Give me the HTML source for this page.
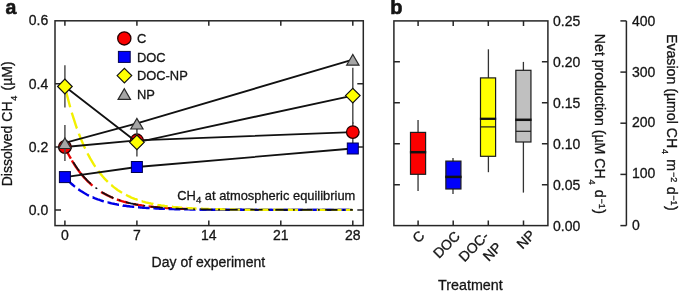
<!DOCTYPE html>
<html><head><meta charset="utf-8"><title>Figure</title>
<style>html,body{margin:0;padding:0;background:#fff}svg{display:block}</style></head>
<body>
<svg width="685" height="293" viewBox="0 0 685 293" font-family="Liberation Sans, sans-serif" font-size="14" fill="#151515" style="will-change:transform">
<rect width="685" height="293" fill="#fff"/>
<style>text{stroke:#151515;stroke-width:0.3px}</style>
<rect x="55.0" y="20.8" width="308.3" height="204.79999999999998" fill="none" stroke="#262626" stroke-width="1.5"/>
<path d="M64.9 225.6 v-5 M64.9 20.8 v5" stroke="#262626" stroke-width="1.5"/>
<text x="64.9" y="240.3" text-anchor="middle">0</text>
<path d="M136.9 225.6 v-5 M136.9 20.8 v5" stroke="#262626" stroke-width="1.5"/>
<text x="136.9" y="240.3" text-anchor="middle">7</text>
<path d="M208.8 225.6 v-5 M208.8 20.8 v5" stroke="#262626" stroke-width="1.5"/>
<text x="208.8" y="240.3" text-anchor="middle">14</text>
<path d="M280.8 225.6 v-5 M280.8 20.8 v5" stroke="#262626" stroke-width="1.5"/>
<text x="280.8" y="240.3" text-anchor="middle">21</text>
<path d="M352.8 225.6 v-5 M352.8 20.8 v5" stroke="#262626" stroke-width="1.5"/>
<text x="352.8" y="240.3" text-anchor="middle">28</text>
<path d="M55.0 209.9 h6 M363.3 209.9 h-6" stroke="#262626" stroke-width="1.5"/>
<text x="48.3" y="215.0" text-anchor="end">0.0</text>
<path d="M55.0 146.9 h6 M363.3 146.9 h-6" stroke="#262626" stroke-width="1.5"/>
<text x="48.3" y="152.0" text-anchor="end">0.2</text>
<path d="M55.0 83.8 h6 M363.3 83.8 h-6" stroke="#262626" stroke-width="1.5"/>
<text x="48.3" y="88.9" text-anchor="end">0.4</text>
<text x="48.3" y="25.1" text-anchor="end">0.6</text>
<text x="208.4" y="267.1" text-anchor="middle">Day of experiment</text>
<text transform="translate(11.9,123.8) rotate(-90)" text-anchor="middle">Dissolved CH<tspan font-size="9" dy="5.4" dx="0.8">4</tspan><tspan dy="-5.4" dx="1.4"> (µM)</tspan></text>
<text x="5.5" y="13.8" font-weight="bold" font-size="19.5" style="stroke-width:0.6px">a</text>
<text x="390.2" y="13.9" font-weight="bold" font-size="20" style="stroke-width:0.6px">b</text>
<clipPath id="c146"><rect x="146" y="0" width="40" height="293"/></clipPath>
<path d="M65.1 147.4 L65.9 149.2 L66.8 150.9 L67.6 152.5 L68.4 154.2 L69.2 155.7 L70.0 157.2 L70.9 158.7 M71.9 160.5 L72.7 161.9 L73.5 163.2 L74.4 164.5 L75.2 165.8 L76.0 167.0 L76.8 168.2 L77.6 169.4 L78.5 170.5 L79.3 171.6 L80.1 172.7 L80.9 173.7 L81.8 174.8 L82.6 175.7 L83.4 176.7 L84.2 177.6 L85.1 178.5 L85.9 179.4 L86.7 180.3 L87.5 181.1 L88.3 181.9 L89.2 182.7 L90.0 183.4 L90.8 184.2 L91.6 184.9 L92.5 185.6 M101.1 191.9 L101.9 192.4 L102.7 192.9 L103.6 193.3 L104.4 193.8 L105.2 194.3 L106.0 194.7 L106.9 195.1 L107.7 195.5 L108.5 195.9 L109.3 196.3 L110.1 196.7 L111.0 197.1 L111.8 197.4 L112.6 197.8 L113.4 198.1 M116.9 199.5 L117.8 199.8 L118.6 200.0 L119.4 200.3 L120.2 200.6 L121.0 200.8 L121.9 201.1 L122.7 201.3 L123.5 201.6 L124.3 201.8 L125.2 202.0 L126.0 202.3 L126.8 202.5 L127.6 202.7 L128.4 202.9 L129.3 203.1 M133.4 204.0 L134.2 204.2 L135.0 204.3 L135.8 204.5 L136.7 204.6 L137.5 204.8 L138.3 204.9 L139.1 205.1 L140.0 205.2 L140.8 205.3 L141.6 205.4 L142.4 205.6 L143.2 205.7 L144.1 205.8" fill="none" stroke="#e60000" stroke-width="2.4"/>
<path d="M67.1 151.5 L67.2 151.7 L68.4 154.2 L69.6 156.5 L70.9 158.7 L72.1 160.8 L73.3 162.9 L74.4 164.5 M77.1 168.6 L77.2 168.8 L78.5 170.5 L79.7 172.2 L80.9 173.7 L82.2 175.3 L83.4 176.7 L84.6 178.1 L85.9 179.4 L85.9 179.5 M89.1 182.7 L89.2 182.7 L90.4 183.8 L91.6 184.9 L92.9 186.0 L94.1 186.9 L95.3 187.9 L96.6 188.8 L97.8 189.7 L99.0 190.5 L99.4 190.8 M102.9 193.0 L102.9 193.0 L104.2 193.7 L105.4 194.4 L106.6 195.0 L107.9 195.6 L109.1 196.2 L110.3 196.8 L111.6 197.3 L112.8 197.9 L114.0 198.4 M117.8 199.8 L118.0 199.8 L119.2 200.2 L120.4 200.7 L121.7 201.0 L122.9 201.4 L124.1 201.8 L125.4 202.1 L126.6 202.4 L127.8 202.7 L129.1 203.0 L129.2 203.1 M133.1 203.9 L133.2 203.9 L134.4 204.2 L135.6 204.4 L136.9 204.7 L138.1 204.9 L139.3 205.1 L140.6 205.3 L141.8 205.5 L143.0 205.7 L144.3 205.8 L144.7 205.9 M148.6 206.4 L148.8 206.4 L150.0 206.6 L151.3 206.7 L152.5 206.8 L153.7 207.0 L155.0 207.1 L156.2 207.2 L157.4 207.3 L158.7 207.4 L159.9 207.5 L160.3 207.6 M164.2 207.9 L164.2 207.9 L165.5 207.9 L166.7 208.0 L167.9 208.1 L169.2 208.2 L170.4 208.3 L171.6 208.3 L172.9 208.4 L174.1 208.5 L175.3 208.5 L175.9 208.5 M179.8 208.7 L179.9 208.7 L181.1 208.8 L182.3 208.8 L183.6 208.9 L184.8 208.9 L186.0 208.9 L187.3 209.0 L188.5 209.0 L189.7 209.1 L191.0 209.1 L191.4 209.1 M195.3 209.2 L195.5 209.2 L196.7 209.2 L198.0 209.3 L199.2 209.3 L200.4 209.3 L201.7 209.3 L202.9 209.4 L204.1 209.4 L205.4 209.4 L206.6 209.4 L207.0 209.4 M210.9 209.5 L211.1 209.5 L212.3 209.5 L213.6 209.5 L214.8 209.5 L216.0 209.6 L217.3 209.6 L218.5 209.6 L219.7 209.6 L221.0 209.6 L222.2 209.6 L222.6 209.6 M226.5 209.7 L226.7 209.7 L228.0 209.7 L229.2 209.7 L230.4 209.7 L231.7 209.7 L232.9 209.7 L234.1 209.7 L235.4 209.7 L236.6 209.7 L237.8 209.7 L238.2 209.7 M242.1 209.8 L242.2 209.8 L243.4 209.8 L244.6 209.8 L245.9 209.8 L247.1 209.8 L248.3 209.8 L249.6 209.8 L250.8 209.8 L252.0 209.8 L253.3 209.8 L253.8 209.8 M257.7 209.8 L257.8 209.8 L259.0 209.8 L260.3 209.8 L261.5 209.8 L262.7 209.8 L264.0 209.8 L265.2 209.8 L266.4 209.8 L267.7 209.8 L268.9 209.8 L269.4 209.8 M273.3 209.9 L273.4 209.9 L274.7 209.9 L275.9 209.9 L277.1 209.9 L278.4 209.9 L279.6 209.9 L280.8 209.9 L282.1 209.9 L283.3 209.9 L284.5 209.9 L285.0 209.9 M288.9 209.9 L289.1 209.9 L290.3 209.9 L291.5 209.9 L292.8 209.9 L294.0 209.9 L295.2 209.9 L296.5 209.9 L297.7 209.9 L298.9 209.9 L300.2 209.9 L300.6 209.9 M304.5 209.9 L304.7 209.9 L305.9 209.9 L307.1 209.9 L308.4 209.9 L309.6 209.9 L310.8 209.9 L312.1 209.9 L313.3 209.9 L314.6 209.9 L315.8 209.9 L316.2 209.9 M320.1 209.9 L320.3 209.9 L321.5 209.9 L322.8 209.9 L324.0 209.9 L325.2 209.9 L326.5 209.9 L327.7 209.9 L328.9 209.9 L330.2 209.9 L331.4 209.9 L331.8 209.9 M335.7 209.9 L335.9 209.9 L337.2 209.9 L338.4 209.9 L339.6 209.9 L340.9 209.9 L342.1 209.9 L343.3 209.9 L344.6 209.9 L345.8 209.9 L347.0 209.9 L347.4 209.9 M351.3 209.9 L351.4 209.9 L352.6 209.9 L352.8 209.9" fill="none" stroke="#e60000" stroke-width="2.4" clip-path="url(#c146)"/>
<path d="M65.4 177.6 L65.5 177.8 L66.8 179.1 L68.0 180.4 L69.2 181.6 L70.5 182.8 L71.7 184.0 L72.9 185.0 L74.2 186.1 L75.0 186.7 M78.3 189.3 L78.5 189.4 L79.7 190.2 L80.9 191.0 L82.2 191.8 L83.4 192.6 L84.6 193.3 L85.9 194.0 L87.1 194.7 L88.3 195.3 L89.0 195.6 M92.6 197.3 L92.7 197.3 L93.9 197.8 L95.1 198.3 L96.4 198.8 L97.6 199.3 L98.8 199.7 L100.1 200.2 L101.3 200.6 L102.5 201.0 L103.8 201.3 L103.8 201.3 M107.5 202.4 L107.7 202.4 L108.9 202.7 L110.1 203.0 L111.4 203.3 L112.6 203.6 L113.8 203.8 L115.1 204.1 L116.3 204.3 L117.5 204.6 L118.8 204.8 L119.0 204.8 M122.7 205.4 L122.9 205.5 L124.1 205.7 L125.4 205.8 L126.6 206.0 L127.8 206.2 L129.1 206.3 L130.3 206.5 L131.5 206.6 L132.8 206.7 L134.0 206.9 L134.2 206.9 M138.0 207.3 L138.1 207.3 L139.3 207.4 L140.6 207.5 L141.8 207.6 L143.0 207.7 L144.3 207.8 L145.5 207.9 L146.7 208.0 L148.0 208.0 L149.2 208.1 L149.6 208.1 M153.4 208.4 L153.5 208.4 L154.8 208.4 L156.0 208.5 L157.2 208.5 L158.5 208.6 L159.7 208.7 L160.9 208.7 L162.2 208.8 L163.4 208.8 L164.6 208.9 L164.9 208.9 M168.7 209.0 L168.7 209.0 L170.0 209.0 L171.2 209.1 L172.5 209.1 L173.7 209.1 L174.9 209.2 L176.2 209.2 L177.4 209.2 L178.6 209.3 L179.9 209.3 L180.3 209.3 M184.1 209.4 L184.2 209.4 L185.4 209.4 L186.6 209.4 L187.9 209.4 L189.1 209.4 L190.3 209.5 L191.6 209.5 L192.8 209.5 L194.0 209.5 L195.3 209.5 L195.6 209.5 M199.4 209.6 L199.6 209.6 L200.8 209.6 L202.1 209.6 L203.3 209.6 L204.5 209.6 L205.8 209.6 L207.0 209.7 L208.2 209.7 L209.5 209.7 L210.7 209.7 L211.0 209.7 M214.8 209.7 L214.8 209.7 L216.0 209.7 L217.3 209.7 L218.5 209.7 L219.7 209.7 L221.0 209.8 L222.2 209.8 L223.5 209.8 L224.7 209.8 L225.9 209.8 L226.3 209.8 M230.1 209.8 L230.2 209.8 L231.5 209.8 L232.7 209.8 L233.9 209.8 L235.2 209.8 L236.4 209.8 L237.6 209.8 L238.9 209.8 L240.1 209.8 L241.3 209.8 L241.7 209.8 M245.5 209.8 L245.7 209.8 L246.9 209.8 L248.1 209.8 L249.4 209.8 L250.6 209.8 L251.8 209.8 L253.1 209.9 L254.3 209.9 L255.5 209.9 L256.8 209.9 L257.0 209.9 M260.8 209.9 L260.9 209.9 L262.1 209.9 L263.3 209.9 L264.6 209.9 L265.8 209.9 L267.0 209.9 L268.3 209.9 L269.5 209.9 L270.7 209.9 L272.0 209.9 L272.4 209.9 M276.2 209.9 L276.3 209.9 L277.5 209.9 L278.8 209.9 L280.0 209.9 L281.2 209.9 L282.5 209.9 L283.7 209.9 L284.9 209.9 L286.2 209.9 L287.4 209.9 L287.7 209.9 M291.5 209.9 L291.5 209.9 L292.8 209.9 L294.0 209.9 L295.2 209.9 L296.5 209.9 L297.7 209.9 L298.9 209.9 L300.2 209.9 L301.4 209.9 L302.6 209.9 L303.1 209.9 M306.9 209.9 L306.9 209.9 L308.2 209.9 L309.4 209.9 L310.6 209.9 L311.9 209.9 L313.1 209.9 L314.3 209.9 L315.6 209.9 L316.8 209.9 L318.0 209.9 L318.4 209.9 M322.2 209.9 L322.4 209.9 L323.6 209.9 L324.8 209.9 L326.1 209.9 L327.3 209.9 L328.5 209.9 L329.8 209.9 L331.0 209.9 L332.2 209.9 L333.5 209.9 L333.8 209.9 M337.6 209.9 L337.6 209.9 L338.8 209.9 L340.1 209.9 L341.3 209.9 L342.5 209.9 L343.8 209.9 L345.0 209.9 L346.2 209.9 L347.5 209.9 L348.7 209.9 L349.1 209.9" fill="none" stroke="#0000e6" stroke-width="2.4"/>
<path d="M200.0 209.6 L200.8 209.6 L201.7 209.6 L202.5 209.6 L203.3 209.6 L204.1 209.6 L204.9 209.6 L205.8 209.6 L206.6 209.7 L207.4 209.7 L208.2 209.7 L209.1 209.7 L209.9 209.7 L210.7 209.7 L211.5 209.7 L212.3 209.7 L213.2 209.7 L214.0 209.7 L214.8 209.7 L215.6 209.7 L216.5 209.7 L217.3 209.7 L218.1 209.7 L218.9 209.7 L219.7 209.7 L220.6 209.7 L221.4 209.8 L222.2 209.8 L223.0 209.8 L223.9 209.8 L224.7 209.8 L225.5 209.8 L226.3 209.8 L227.2 209.8 L228.0 209.8 L228.8 209.8 L229.6 209.8 L230.4 209.8 L231.3 209.8 L232.1 209.8 L232.9 209.8 L233.7 209.8 L234.6 209.8 L235.4 209.8 L236.2 209.8 L237.0 209.8 L237.8 209.8 L238.7 209.8 L239.5 209.8 L240.3 209.8 L241.1 209.8 L242.0 209.8 L242.8 209.8 L243.6 209.8 L244.4 209.8 L245.2 209.8 L246.1 209.8 L246.9 209.8 L247.7 209.8 L248.5 209.8 L249.4 209.8 L250.2 209.8 L251.0 209.8 L251.8 209.8 L252.7 209.8 L253.5 209.9 L254.3 209.9 L255.1 209.9 L255.9 209.9 L256.8 209.9 L257.6 209.9 L258.4 209.9 L259.2 209.9 L260.1 209.9 L260.9 209.9 L261.7 209.9 L262.5 209.9 L263.3 209.9 L264.2 209.9 L265.0 209.9 L265.8 209.9 L266.6 209.9 L267.5 209.9 L268.3 209.9 L269.1 209.9 L269.9 209.9 L270.7 209.9 L271.6 209.9 L272.4 209.9 L273.2 209.9 L274.0 209.9 L274.9 209.9 L275.7 209.9 L276.5 209.9 L277.3 209.9 L278.2 209.9 L279.0 209.9 L279.8 209.9 L280.6 209.9 L281.4 209.9 L282.3 209.9 L283.1 209.9 L283.9 209.9 L284.7 209.9 L285.6 209.9 L286.4 209.9 L287.2 209.9 L288.0 209.9 L288.8 209.9 L289.7 209.9 L290.5 209.9 L291.3 209.9 L292.1 209.9 L293.0 209.9 L293.8 209.9 L294.6 209.9 L295.4 209.9 L296.2 209.9 L297.1 209.9 L297.9 209.9 L298.7 209.9 L299.5 209.9 L300.4 209.9 L301.2 209.9 L302.0 209.9 L302.8 209.9 L303.7 209.9 L304.5 209.9 L305.3 209.9 L306.1 209.9 L306.9 209.9 L307.8 209.9 L308.6 209.9 L309.4 209.9 L310.2 209.9 L311.1 209.9 L311.9 209.9 L312.7 209.9 L313.5 209.9 L314.3 209.9 L315.2 209.9 L316.0 209.9 L316.8 209.9 L317.6 209.9 L318.5 209.9 L319.3 209.9 L320.1 209.9 L320.9 209.9 L321.7 209.9 L322.6 209.9 L323.4 209.9 L324.2 209.9 L325.0 209.9 L325.9 209.9 L326.7 209.9 L327.5 209.9 L328.3 209.9 L329.2 209.9 L330.0 209.9 L330.8 209.9 L331.6 209.9 L332.4 209.9 L333.3 209.9 L334.1 209.9 L334.9 209.9 L335.7 209.9 L336.6 209.9 L337.4 209.9 L338.2 209.9 L339.0 209.9 L339.8 209.9 L340.7 209.9 L341.5 209.9 L342.3 209.9 L343.1 209.9 L344.0 209.9 L344.8 209.9 L345.6 209.9 L346.4 209.9 L347.2 209.9 L348.1 209.9 L348.9 209.9 L349.7 209.9 L350.5 209.9 L351.4 209.9 L352.2 209.9" fill="none" stroke="#0000e6" stroke-width="2.4"/>
<clipPath id="cl"><rect x="0" y="0" width="150" height="293"/></clipPath><clipPath id="cr"><rect x="150" y="0" width="535" height="293"/></clipPath>
<path d="M66.0 91.0 L66.1 91.6 L67.4 96.6 L68.6 101.3 L69.8 105.8 L70.2 107.3 M71.8 112.7 L71.9 113.0 L73.1 117.0 L74.4 120.9 L75.6 124.6 L76.8 128.2 L77.0 128.5 M78.9 133.7 L78.9 133.8 L80.1 136.9 L81.4 140.0 L82.6 142.9 L83.8 145.7 L85.1 148.4 L85.2 148.6 M87.5 153.4 L87.7 153.8 L89.0 156.1 L90.2 158.4 L91.4 160.5 L92.7 162.6 L93.9 164.6 L95.1 166.4 L95.4 166.8 M98.3 170.9 L98.4 171.1 L99.7 172.7 L100.9 174.3 L102.1 175.8 L103.4 177.2 L104.6 178.6 L105.8 179.9 L107.1 181.1 L107.8 181.8 M111.2 185.0 L111.4 185.1 L112.6 186.1 L113.8 187.1 L115.1 188.1 L116.3 189.0 L117.5 189.9 L118.8 190.7 L120.0 191.5 L121.2 192.3 L122.1 192.8 M126.0 194.9 L126.0 194.9 L127.2 195.5 L128.4 196.1 L129.7 196.7 L130.9 197.3 L132.1 197.8 L133.4 198.3 L134.6 198.8 L135.8 199.2 L137.1 199.7 L137.7 199.9 M141.6 201.2 L141.8 201.2 L143.0 201.6 L144.3 201.9 L145.5 202.3 L146.7 202.6 L148.0 202.9 L149.2 203.2 L150.4 203.5 L151.7 203.7 L152.9 204.0 L153.7 204.1 M157.7 204.9 L157.9 204.9 L159.1 205.1 L160.3 205.3 L161.6 205.5 L162.8 205.7 L164.0 205.9 L165.3 206.0 L166.5 206.2 L167.7 206.4 L169.0 206.5 L169.9 206.6 M174.0 207.0 L174.1 207.1 L175.3 207.2 L176.6 207.3 L177.8 207.4 L179.0 207.5 L180.3 207.6 L181.5 207.7 L182.7 207.8 L184.0 207.9 L185.2 208.0 L186.1 208.0 M190.2 208.3 L190.3 208.3 L191.6 208.3 L192.8 208.4 L194.0 208.5 L195.3 208.5 L196.5 208.6 L197.7 208.6 L199.0 208.7 L200.2 208.7 L201.4 208.8 L202.4 208.8 M206.5 209.0 L206.6 209.0 L207.8 209.0 L209.1 209.0 L210.3 209.1 L211.5 209.1 L212.8 209.2 L214.0 209.2 L215.2 209.2 L216.5 209.2 L217.7 209.3 L218.7 209.3 M222.8 209.4 L222.8 209.4 L224.1 209.4 L225.3 209.4 L226.5 209.4 L227.8 209.5 L229.0 209.5 L230.2 209.5 L231.5 209.5 L232.7 209.5 L233.9 209.5 L235.0 209.6 M239.1 209.6 L239.3 209.6 L240.5 209.6 L241.8 209.6 L243.0 209.6 L244.2 209.6 L245.5 209.7 L246.7 209.7 L247.9 209.7 L249.2 209.7 L250.4 209.7 L251.3 209.7 M255.4 209.7 L255.5 209.7 L256.8 209.7 L258.0 209.7 L259.2 209.7 L260.5 209.8 L261.7 209.8 L262.9 209.8 L264.2 209.8 L265.4 209.8 L266.6 209.8 L267.6 209.8 M271.7 209.8 L271.8 209.8 L273.0 209.8 L274.2 209.8 L275.5 209.8 L276.7 209.8 L277.9 209.8 L279.2 209.8 L280.4 209.8 L281.6 209.8 L282.9 209.8 L283.9 209.8 M288.0 209.8 L288.2 209.8 L289.5 209.8 L290.7 209.8 L291.9 209.9 L293.2 209.9 L294.4 209.9 L295.6 209.9 L296.9 209.9 L298.1 209.9 L299.3 209.9 L300.2 209.9 M304.3 209.9 L304.5 209.9 L305.7 209.9 L306.9 209.9 L308.2 209.9 L309.4 209.9 L310.6 209.9 L311.9 209.9 L313.1 209.9 L314.3 209.9 L315.6 209.9 L316.5 209.9 M320.6 209.9 L320.7 209.9 L322.0 209.9 L323.2 209.9 L324.4 209.9 L325.7 209.9 L326.9 209.9 L328.1 209.9 L329.4 209.9 L330.6 209.9 L331.8 209.9 L332.8 209.9 M336.9 209.9 L337.0 209.9 L338.2 209.9 L339.4 209.9 L340.7 209.9 L341.9 209.9 L343.1 209.9 L344.4 209.9 L345.6 209.9 L346.8 209.9 L348.1 209.9 L349.1 209.9" fill="none" stroke="#f2f000" stroke-width="2.4" clip-path="url(#cl)"/>
<path d="M65.8 90.4 L65.9 90.8 L67.2 95.8 L68.4 100.5 L69.4 104.2 M71.0 109.8 L71.1 110.2 L72.3 114.3 L73.5 118.3 L74.8 122.1 L75.1 123.3 M77.0 128.6 L77.0 128.7 L78.3 132.1 L79.5 135.4 L80.7 138.5 L82.0 141.4 L82.0 141.5 M84.2 146.6 L84.4 147.0 L85.7 149.7 L86.9 152.2 L88.1 154.6 L89.4 156.9 L90.3 158.5 M93.0 163.1 L93.1 163.2 L94.3 165.2 L95.5 167.1 L96.8 168.8 L98.0 170.6 L99.2 172.2 L100.3 173.5 M103.5 177.4 L103.6 177.4 L104.8 178.8 L106.0 180.1 L107.3 181.3 L108.5 182.5 L109.7 183.7 L111.0 184.7 L112.0 185.6 M115.7 188.5 L115.7 188.5 L116.9 189.4 L118.2 190.3 L119.4 191.1 L120.6 191.9 L121.9 192.6 L123.1 193.4 L124.3 194.0 L125.1 194.5 M129.1 196.4 L129.3 196.5 L130.5 197.1 L131.7 197.6 L133.0 198.1 L134.2 198.6 L135.4 199.1 L136.7 199.5 L137.9 200.0 L139.0 200.3 M143.1 201.6 L143.2 201.6 L144.5 202.0 L145.7 202.3 L147.0 202.6 L148.2 202.9 L149.4 203.2 L150.7 203.5 L151.9 203.8 L153.1 204.0 L153.3 204.1 M157.4 204.8 L157.4 204.8 L158.7 205.1 L159.9 205.3 L161.1 205.5 L162.4 205.6 L163.6 205.8 L164.8 206.0 L166.1 206.1 L167.3 206.3 L167.7 206.3 M171.9 206.8 L172.0 206.8 L173.3 207.0 L174.5 207.1 L175.7 207.2 L177.0 207.3 L178.2 207.4 L179.4 207.5 L180.7 207.6 L181.9 207.7 L182.1 207.7 M186.3 208.0 L186.4 208.0 L187.7 208.1 L188.9 208.2 L190.1 208.3 L191.4 208.3 L192.6 208.4 L193.8 208.5 L195.1 208.5 L196.3 208.6 L196.6 208.6 M200.8 208.8 L200.8 208.8 L202.1 208.8 L203.3 208.9 L204.5 208.9 L205.8 208.9 L207.0 209.0 L208.2 209.0 L209.5 209.1 L210.7 209.1 L211.1 209.1 M215.3 209.2 L215.4 209.2 L216.7 209.2 L217.9 209.3 L219.1 209.3 L220.4 209.3 L221.6 209.3 L222.8 209.4 L224.1 209.4 L225.3 209.4 L225.6 209.4 M229.8 209.5 L229.8 209.5 L231.1 209.5 L232.3 209.5 L233.5 209.5 L234.8 209.5 L236.0 209.6 L237.2 209.6 L238.5 209.6 L239.7 209.6 L240.1 209.6 M244.3 209.6 L244.4 209.6 L245.7 209.7 L246.9 209.7 L248.1 209.7 L249.4 209.7 L250.6 209.7 L251.8 209.7 L253.1 209.7 L254.3 209.7 L254.6 209.7 M258.8 209.7 L258.8 209.7 L260.1 209.8 L261.3 209.8 L262.5 209.8 L263.8 209.8 L265.0 209.8 L266.2 209.8 L267.5 209.8 L268.7 209.8 L269.1 209.8 M273.3 209.8 L273.4 209.8 L274.7 209.8 L275.9 209.8 L277.1 209.8 L278.4 209.8 L279.6 209.8 L280.8 209.8 L282.1 209.8 L283.3 209.8 L283.6 209.8 M287.8 209.8 L288.0 209.8 L289.3 209.8 L290.5 209.8 L291.7 209.9 L293.0 209.9 L294.2 209.9 L295.4 209.9 L296.7 209.9 L297.9 209.9 L298.1 209.9 M302.3 209.9 L302.4 209.9 L303.7 209.9 L304.9 209.9 L306.1 209.9 L307.4 209.9 L308.6 209.9 L309.8 209.9 L311.1 209.9 L312.3 209.9 L312.6 209.9 M316.8 209.9 L317.0 209.9 L318.3 209.9 L319.5 209.9 L320.7 209.9 L322.0 209.9 L323.2 209.9 L324.4 209.9 L325.7 209.9 L326.9 209.9 L327.1 209.9 M331.3 209.9 L331.4 209.9 L332.6 209.9 L333.9 209.9 L335.1 209.9 L336.3 209.9 L337.6 209.9 L338.8 209.9 L340.1 209.9 L341.3 209.9 L341.6 209.9 M345.8 209.9 L346.0 209.9 L347.2 209.9 L348.5 209.9 L349.7 209.9 L350.9 209.9 L352.2 209.9 L352.8 209.9" fill="none" stroke="#f2f000" stroke-width="2.4" clip-path="url(#cr)"/>
<clipPath id="c80"><rect x="80" y="0" width="605" height="293"/></clipPath>
<path d="M73.3 162.1 L74.2 163.5 L75.0 164.8 L75.8 166.0 L76.6 167.3 L77.4 168.5 L78.3 169.6 L79.1 170.7" fill="none" stroke="#111" stroke-width="1.6"/>
<path d="M64.9 146.0 L65.1 146.5 L66.3 149.1 L67.6 151.6 L68.8 154.1 L70.0 156.4 L71.3 158.6 L72.1 160.1 M75.8 166.0 L75.8 166.0 L76.9 167.7 M80.9 173.1 L80.9 173.2 L82.2 174.7 L83.4 176.2 L84.6 177.6 L85.9 178.9 L87.1 180.2 L88.3 181.5 L89.6 182.6 L90.7 183.7 M95.5 187.7 L95.5 187.7 L96.8 188.6 L96.9 188.8 M101.9 192.1 L102.1 192.2 L103.4 193.0 L104.6 193.7 L105.8 194.3 L107.1 195.0 L108.3 195.6 L109.5 196.2 L110.8 196.8 L112.0 197.3 L113.2 197.9 L113.5 198.0 M118.8 200.0 L119.0 200.0 L120.2 200.4 L120.4 200.5 M125.8 202.1 L126.0 202.1 L127.2 202.5 L128.4 202.8 L129.7 203.1 L130.9 203.4 L132.1 203.6 L133.4 203.9 L134.6 204.1 L135.8 204.4 L137.1 204.6 L138.0 204.8 M143.4 205.7 L143.5 205.7 L144.7 205.8 L145.1 205.9 M150.6 206.6 L150.7 206.6 L151.9 206.7 L153.1 206.9 L154.4 207.0 L155.6 207.1 L156.8 207.2 L158.1 207.3 L159.3 207.4 L160.5 207.5 L161.8 207.6 L162.8 207.7 M168.3 208.1 L168.3 208.1 L169.6 208.2 L170.0 208.2 M175.5 208.5 L175.5 208.5 L176.8 208.6 L178.0 208.6 L179.2 208.7 L180.5 208.7 L181.7 208.8 L182.9 208.8 L184.2 208.9 L185.4 208.9 L186.6 208.9 L187.8 209.0 M193.3 209.1 L193.4 209.1 L194.7 209.2 L194.9 209.2 M200.4 209.3 L200.4 209.3 L201.7 209.3 L202.9 209.4 L204.1 209.4 L205.4 209.4 L206.6 209.4 L207.8 209.4 L209.1 209.5 L210.3 209.5 L211.5 209.5 L212.7 209.5 M218.2 209.6 L218.3 209.6 L219.5 209.6 L219.9 209.6 M225.4 209.6 L225.5 209.7 L226.7 209.7 L228.0 209.7 L229.2 209.7 L230.4 209.7 L231.7 209.7 L232.9 209.7 L234.1 209.7 L235.4 209.7 L236.6 209.7 L237.7 209.7 M243.2 209.8 L243.2 209.8 L244.4 209.8 L244.8 209.8 M250.3 209.8 L250.4 209.8 L251.6 209.8 L252.9 209.8 L254.1 209.8 L255.3 209.8 L256.6 209.8 L257.8 209.8 L259.0 209.8 L260.3 209.8 L261.5 209.8 L262.6 209.8 M268.1 209.8 L268.3 209.8 L269.5 209.8 L269.8 209.8 M275.3 209.9 L275.3 209.9 L276.5 209.9 L277.7 209.9 L279.0 209.9 L280.2 209.9 L281.4 209.9 L282.7 209.9 L283.9 209.9 L285.1 209.9 L286.4 209.9 L287.6 209.9 M293.1 209.9 L293.2 209.9 L294.4 209.9 L294.7 209.9 M300.2 209.9 L300.4 209.9 L301.6 209.9 L302.8 209.9 L304.1 209.9 L305.3 209.9 L306.5 209.9 L307.8 209.9 L309.0 209.9 L310.2 209.9 L311.5 209.9 L312.5 209.9 M318.0 209.9 L318.0 209.9 L319.3 209.9 L319.7 209.9 M325.2 209.9 L325.2 209.9 L326.5 209.9 L327.7 209.9 L328.9 209.9 L330.2 209.9 L331.4 209.9 L332.6 209.9 L333.9 209.9 L335.1 209.9 L336.3 209.9 L337.5 209.9 M343.0 209.9 L343.1 209.9 L344.4 209.9 L344.6 209.9 M350.1 209.9 L350.1 209.9 L351.4 209.9 L352.6 209.9 L352.8 209.9" fill="none" stroke="#111" stroke-width="1.6" clip-path="url(#c80)"/>
<text x="177.3" y="199.5" font-size="12.9">CH<tspan font-size="9.6" dy="3.6">4</tspan><tspan dy="-3.6"> at atmospheric equilibrium</tspan></text>
<path d="M64.9 147.0 L136.9 140.3 L352.8 132.1" fill="none" stroke="#111" stroke-width="1.8"/>
<path d="M64.9 140.0 V154.0" stroke="#505050" stroke-width="1.5"/>
<path d="M136.9 133.0 V145.0" stroke="#505050" stroke-width="1.5"/>
<path d="M352.8 122.0 V143.0" stroke="#505050" stroke-width="1.5"/>
<circle cx="64.9" cy="147.0" r="6.3" fill="#fa0000" stroke="#280000" stroke-width="1.3"/>
<circle cx="136.9" cy="140.3" r="6.3" fill="#fa0000" stroke="#280000" stroke-width="1.3"/>
<circle cx="352.8" cy="132.1" r="6.3" fill="#fa0000" stroke="#280000" stroke-width="1.3"/>
<path d="M64.9 177.1 L136.9 167.0 L352.8 148.5" fill="none" stroke="#111" stroke-width="1.8"/>
<path d="M64.9 172.0 V182.0" stroke="#505050" stroke-width="1.5"/>
<path d="M136.9 162.0 V172.0" stroke="#505050" stroke-width="1.5"/>
<path d="M352.8 143.0 V153.0" stroke="#505050" stroke-width="1.5"/>
<rect x="59.40" y="171.60" width="11.0" height="11.0" fill="#0000fa" stroke="#000050" stroke-width="1"/>
<rect x="131.38" y="161.50" width="11.0" height="11.0" fill="#0000fa" stroke="#000050" stroke-width="1"/>
<rect x="347.30" y="143.00" width="11.0" height="11.0" fill="#0000fa" stroke="#000050" stroke-width="1"/>
<path d="M64.9 86.5 L136.9 142.3 L352.8 95.6" fill="none" stroke="#111" stroke-width="1.8"/>
<path d="M64.9 65.3 V107.6" stroke="#505050" stroke-width="1.5"/>
<path d="M136.9 129.5 V156.6" stroke="#505050" stroke-width="1.5"/>
<path d="M352.8 67.8 V124.0" stroke="#505050" stroke-width="1.5"/>
<path d="M57.6 86.5 L64.9 79.2 L72.2 86.5 L64.9 93.8 Z" fill="#ffff00" stroke="#111" stroke-width="1.2"/>
<path d="M129.6 142.3 L136.9 135.0 L144.2 142.3 L136.9 149.7 Z" fill="#ffff00" stroke="#111" stroke-width="1.2"/>
<path d="M345.5 95.6 L352.8 88.3 L360.1 95.6 L352.8 102.9 Z" fill="#ffff00" stroke="#111" stroke-width="1.2"/>
<path d="M64.9 142.9 L136.9 123.4 L352.8 59.6" fill="none" stroke="#111" stroke-width="1.8"/>
<path d="M64.9 125.0 V160.9" stroke="#505050" stroke-width="1.5"/>
<path d="M136.9 120.0 V130.0" stroke="#505050" stroke-width="1.5"/>
<path d="M58.70 148.50 L64.90 137.85 L71.10 148.50 Z" fill="#a6a6a6" stroke="#2a2a2a" stroke-width="1.2"/>
<path d="M130.68 129.00 L136.88 118.35 L143.07 129.00 Z" fill="#a6a6a6" stroke="#2a2a2a" stroke-width="1.2"/>
<path d="M346.60 65.20 L352.80 54.55 L359.00 65.20 Z" fill="#a6a6a6" stroke="#2a2a2a" stroke-width="1.2"/>
<circle cx="124.3" cy="38.4" r="6.6" fill="#fa0000" stroke="#280000" stroke-width="1.3"/>
<rect x="118.4" y="51.4" width="11.8" height="11.0" fill="#0000fa" stroke="#000050" stroke-width="1"/>
<path d="M117.1 75.6 L124.4 68.3 L131.7 75.6 L124.4 82.9 Z" fill="#ffff00" stroke="#111" stroke-width="1.2"/>
<path d="M118.10 99.35 L124.30 88.70 L130.50 99.35 Z" fill="#a6a6a6" stroke="#2a2a2a" stroke-width="1.2"/>
<text x="136.9" y="43.3" font-size="12.9">C</text>
<text x="136.9" y="61.7" font-size="12.9">DOC</text>
<text x="136.9" y="80.3" font-size="12.9">DOC-NP</text>
<text x="136.9" y="98.5" font-size="12.9">NP</text>
<rect x="393.9" y="20.9" width="154.0" height="204.7" fill="none" stroke="#262626" stroke-width="1.5"/>
<path d="M418.1 225.6 v-5 M418.1 20.9 v5" stroke="#262626" stroke-width="1.5"/>
<path d="M453.2 225.6 v-5 M453.2 20.9 v5" stroke="#262626" stroke-width="1.5"/>
<path d="M488.3 225.6 v-5 M488.3 20.9 v5" stroke="#262626" stroke-width="1.5"/>
<path d="M523.5 225.6 v-5 M523.5 20.9 v5" stroke="#262626" stroke-width="1.5"/>
<text x="553.0" y="231.1">0.00</text>
<path d="M393.9 184.7 h6 M547.9 184.7 h-6" stroke="#262626" stroke-width="1.5"/>
<text x="553.0" y="190.2">0.05</text>
<path d="M393.9 143.7 h6 M547.9 143.7 h-6" stroke="#262626" stroke-width="1.5"/>
<text x="553.0" y="149.2">0.10</text>
<path d="M393.9 102.8 h6 M547.9 102.8 h-6" stroke="#262626" stroke-width="1.5"/>
<text x="553.0" y="108.3">0.15</text>
<path d="M393.9 61.8 h6 M547.9 61.8 h-6" stroke="#262626" stroke-width="1.5"/>
<text x="553.0" y="67.3">0.20</text>
<text x="553.0" y="26.4">0.25</text>
<path d="M418.05 120.0 V191.0" stroke="#333" stroke-width="1.3"/><rect x="410.50" y="132.4" width="15.1" height="41.9" fill="#fb0000" stroke="#1c1c1c" stroke-width="1.2"/><path d="M409.90 152.2 h16.3" stroke="#111" stroke-width="2.5"/>
<path d="M453.0 157.9 V194.1" stroke="#333" stroke-width="1.3"/><rect x="445.85" y="161.1" width="15.1" height="27.9" fill="#0000fb" stroke="#1c1c1c" stroke-width="1.2"/><path d="M445.25 176.9 h16.3" stroke="#111" stroke-width="2.5"/>
<path d="M488.4 49.3 V172.2" stroke="#333" stroke-width="1.3"/><rect x="480.50" y="77.9" width="15.1" height="78.4" fill="#ffff00" stroke="#1c1c1c" stroke-width="1.2"/><path d="M480.50 126.9 h15.1" stroke="#1c1c1c" stroke-width="1.2"/><path d="M479.90 118.8 h16.3" stroke="#111" stroke-width="2.3"/>
<path d="M523.4 61.9 V192.6" stroke="#333" stroke-width="1.3"/><rect x="515.85" y="70.3" width="15.1" height="71.7" fill="#c0c0c0" stroke="#1c1c1c" stroke-width="1.2"/><path d="M515.85 131.3 h15.1" stroke="#1c1c1c" stroke-width="1.2"/><path d="M515.25 119.8 h16.3" stroke="#111" stroke-width="2.5"/>
<text transform="translate(418.2,236.6) rotate(-45)" text-anchor="middle" y="5">C</text>
<text transform="translate(446.4,244.5) rotate(-45)" text-anchor="middle" y="5">DOC</text>
<text transform="translate(473.6,246.2) rotate(-45)" text-anchor="middle" y="5">DOC-</text>
<text transform="translate(492.1,251.5) rotate(-45)" text-anchor="middle" y="5">NP</text>
<text transform="translate(525.8,239.3) rotate(-45)" text-anchor="middle" y="5">NP</text>
<text x="470.4" y="289.6" text-anchor="middle" font-size="14.3">Treatment</text>
<text transform="translate(594.5,123.9) rotate(90)" text-anchor="middle" font-size="14.15">Net production (µM CH<tspan font-size="9" dy="5.4" dx="0.8">4</tspan><tspan dy="-5.4" dx="1.4"> d</tspan><tspan font-size="9" dy="-4" dx="0.8">−1</tspan><tspan dy="4" dx="0.5">)</tspan></text>
<path d="M626.4 20.9 V225.6" stroke="#262626" stroke-width="1.5"/>
<path d="M626.4 225.6 h-6" stroke="#262626" stroke-width="1.5"/>
<text x="632.0" y="230.2">0</text>
<path d="M626.4 174.4 h-6" stroke="#262626" stroke-width="1.5"/>
<text x="632.0" y="177.6">100</text>
<path d="M626.4 123.2 h-6" stroke="#262626" stroke-width="1.5"/>
<text x="632.0" y="126.55">200</text>
<path d="M626.4 72.1 h-6" stroke="#262626" stroke-width="1.5"/>
<text x="632.0" y="77.0">300</text>
<path d="M626.4 20.9 h-6" stroke="#262626" stroke-width="1.5"/>
<text x="632.0" y="26.3">400</text>
<text transform="translate(667.4,122.4) rotate(90)" text-anchor="middle" font-size="14.15">Evasion (µmol CH<tspan font-size="9" dy="5.4" dx="0.8">4</tspan><tspan dy="-5.4" dx="1.4"> m</tspan><tspan font-size="9" dy="-4" dx="0.8">−2</tspan><tspan dy="4" dx="0.5"> d</tspan><tspan font-size="9" dy="-4" dx="0.8">−1</tspan><tspan dy="4" dx="0.5">)</tspan></text>
</svg>
</body></html>
